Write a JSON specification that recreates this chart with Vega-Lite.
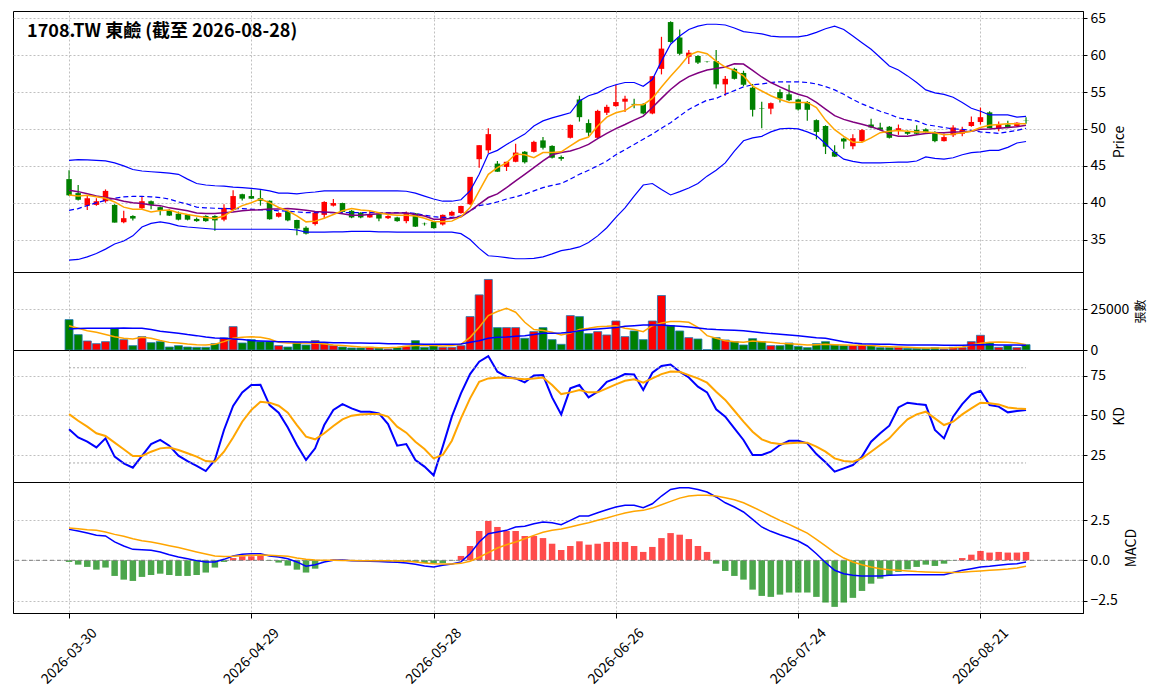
{
"$schema": "https://vega.github.io/schema/vega-lite/v6.json",
"background": "white",
"padding": {"left": 12, "top": 10, "right": 0, "bottom": 0},
"spacing": 0,
"bounds": "flush",
"config": {
  "font": "Noto Sans CJK TC",
  "view": {"stroke": "#000000", "strokeWidth": 1},
  "scale": {"continuousPadding": 0},
  "axis": {"gridColor": "#b0b0b0", "gridDash": [2, 2], "gridWidth": 0.8, "labelFontSize": 14, "labelColor": "#000000", "titleColor": "#000000", "titleFontWeight": "normal", "titleFontSize": 14, "domainColor": "#000000", "tickColor": "#000000", "tickSize": 4, "labelPadding": 3}
},
"datasets": {"k": [
{"i":0,"d":"2026-03-30","o":43.2,"h":44.4,"l":40.9,"c":41.0,"v":18750,"m5":41.05,"m10":41.7,"m20":38.97,"up":45.75,"lo":32.2,"vm5":15000,"vm20":13000,"k":41.2,"dv":50.8,"dif":1.92,"sig":2.0,"osc":-0.10},
{"i":1,"d":"2026-03-31","o":41.3,"h":42.4,"l":40.3,"c":40.4,"v":9480,"m5":40.9,"m10":41.5,"m20":39.2,"up":45.85,"lo":32.3,"vm5":13400,"vm20":13300,"k":36.1,"dv":46.6,"dif":1.82,"sig":1.96,"osc":-0.27},
{"i":2,"d":"2026-04-01","o":39.6,"h":40.9,"l":39.0,"c":40.6,"v":5560,"m5":41.0,"m10":41.2,"m20":39.6,"up":45.8,"lo":32.65,"vm5":11900,"vm20":13400,"k":33.4,"dv":42.9,"dif":1.69,"sig":1.90,"osc":-0.41},
{"i":3,"d":"2026-04-02","o":39.7,"h":40.6,"l":39.6,"c":40.2,"v":3910,"m5":40.8,"m10":40.9,"m20":40.0,"up":45.75,"lo":33.1,"vm5":10900,"vm20":13400,"k":29.8,"dv":38.7,"dif":1.55,"sig":1.86,"osc":-0.58},
{"i":4,"d":"2026-04-07","o":40.2,"h":41.8,"l":40.0,"c":41.6,"v":5150,"m5":40.6,"m10":40.7,"m20":40.3,"up":45.66,"lo":33.7,"vm5":9500,"vm20":13400,"k":35.5,"dv":37.0,"dif":1.51,"sig":1.76,"osc":-0.45},
{"i":5,"d":"2026-04-08","o":39.7,"h":39.8,"l":37.3,"c":37.3,"v":13390,"m5":40.1,"m10":40.5,"m20":40.6,"up":45.4,"lo":34.4,"vm5":8200,"vm20":13400,"k":24.0,"dv":32.8,"dif":1.14,"sig":1.61,"osc":-0.97},
{"i":6,"d":"2026-04-09","o":37.35,"h":38.9,"l":37.2,"c":37.9,"v":6390,"m5":39.4,"m10":40.2,"m20":40.8,"up":45.0,"lo":34.8,"vm5":7200,"vm20":13500,"k":19.8,"dv":28.6,"dif":0.89,"sig":1.49,"osc":-1.20},
{"i":7,"d":"2026-04-10","o":38.2,"h":38.3,"l":37.6,"c":37.85,"v":2680,"m5":39.1,"m10":40.0,"m20":40.85,"up":44.5,"lo":35.5,"vm5":6800,"vm20":13400,"k":17.0,"dv":24.4,"dif":0.68,"sig":1.34,"osc":-1.28},
{"i":8,"d":"2026-04-13","o":39.25,"h":40.9,"l":39.1,"c":40.2,"v":8240,"m5":39.1,"m10":39.9,"m20":40.85,"up":44.3,"lo":36.7,"vm5":7800,"vm20":13400,"k":24.4,"dv":24.4,"dif":0.66,"sig":1.22,"osc":-1.03},
{"i":9,"d":"2026-04-14","o":40.2,"h":40.3,"l":39.1,"c":39.7,"v":4530,"m5":38.75,"m10":39.7,"m20":40.8,"up":44.2,"lo":37.2,"vm5":7200,"vm20":12600,"k":31.9,"dv":27.1,"dif":0.62,"sig":1.14,"osc":-0.91},
{"i":10,"d":"2026-04-15","o":39.4,"h":39.5,"l":38.3,"c":39.0,"v":5150,"m5":38.95,"m10":39.6,"m20":40.7,"up":44.1,"lo":37.4,"vm5":5800,"vm20":11500,"k":34.5,"dv":29.2,"dif":0.52,"sig":1.03,"osc":-0.83},
{"i":11,"d":"2026-04-16","o":39.0,"h":39.1,"l":38.2,"c":38.25,"v":1850,"m5":39.0,"m10":39.3,"m20":40.5,"up":44.0,"lo":37.2,"vm5":4700,"vm20":10900,"k":30.9,"dv":29.8,"dif":0.35,"sig":0.91,"osc":-0.91},
{"i":12,"d":"2026-04-17","o":38.5,"h":38.8,"l":37.6,"c":37.7,"v":2680,"m5":38.65,"m10":39.1,"m20":40.1,"up":43.85,"lo":36.85,"vm5":4300,"vm20":10300,"k":24.6,"dv":28.2,"dif":0.21,"sig":0.79,"osc":-0.97},
{"i":13,"d":"2026-04-20","o":38.35,"h":38.4,"l":37.6,"c":37.7,"v":1850,"m5":38.4,"m10":38.9,"m20":39.8,"up":43.2,"lo":36.7,"vm5":3700,"vm20":9500,"k":21.2,"dv":26.1,"dif":0.10,"sig":0.66,"osc":-0.97},
{"i":14,"d":"2026-04-21","o":37.8,"h":38.0,"l":37.4,"c":37.5,"v":1650,"m5":38.2,"m10":38.6,"m20":39.4,"up":42.6,"lo":36.6,"vm5":3300,"vm20":8860,"k":18.1,"dv":24.0,"dif":-0.02,"sig":0.52,"osc":-0.91},
{"i":15,"d":"2026-04-22","o":38.2,"h":38.3,"l":37.4,"c":37.5,"v":1650,"m5":38.0,"m10":38.55,"m20":39.3,"up":42.4,"lo":36.5,"vm5":3100,"vm20":8000,"k":14.9,"dv":21.2,"dif":-0.10,"sig":0.39,"osc":-0.76},
{"i":16,"d":"2026-04-23","o":38.2,"h":38.3,"l":36.2,"c":37.6,"v":3910,"m5":37.85,"m10":38.55,"m20":39.25,"up":42.3,"lo":36.4,"vm5":3500,"vm20":7400,"k":21.9,"dv":20.8,"dif":-0.10,"sig":0.27,"osc":-0.45},
{"i":17,"d":"2026-04-24","o":37.7,"h":39.8,"l":37.5,"c":39.3,"v":7420,"m5":38.2,"m10":38.65,"m20":39.2,"up":42.25,"lo":36.4,"vm5":5150,"vm20":7200,"k":40.8,"dv":27.1,"dif":0.06,"sig":0.23,"osc":-0.10},
{"i":18,"d":"2026-04-27","o":39.0,"h":41.7,"l":38.9,"c":40.9,"v":14420,"m5":39.0,"m10":38.75,"m20":39.2,"up":42.1,"lo":36.4,"vm5":7200,"vm20":6800,"k":55.9,"dv":36.1,"dif":0.27,"sig":0.25,"osc":0.14},
{"i":19,"d":"2026-04-28","o":41.15,"h":41.2,"l":40.3,"c":40.55,"v":4330,"m5":39.6,"m10":38.9,"m20":39.2,"up":42.05,"lo":36.4,"vm5":7800,"vm20":6400,"k":64.5,"dv":46.0,"dif":0.37,"sig":0.29,"osc":0.25},
{"i":20,"d":"2026-04-29","o":40.9,"h":41.8,"l":40.5,"c":40.55,"v":6390,"m5":40.0,"m10":39.0,"m20":39.1,"up":41.95,"lo":36.4,"vm5":8200,"vm20":5800,"k":69.1,"dv":53.4,"dif":0.41,"sig":0.31,"osc":0.25},
{"i":21,"d":"2026-04-30","o":40.6,"h":41.7,"l":39.6,"c":40.25,"v":5150,"m5":40.5,"m10":39.05,"m20":39.05,"up":41.8,"lo":36.4,"vm5":7800,"vm20":5560,"k":69.3,"dv":58.6,"dif":0.41,"sig":0.33,"osc":0.27},
{"i":22,"d":"2026-05-04","o":40.25,"h":40.3,"l":37.7,"c":37.75,"v":5150,"m5":40.0,"m10":39.15,"m20":39.0,"up":41.6,"lo":36.4,"vm5":6800,"vm20":5360,"k":56.5,"dv":58.0,"dif":0.27,"sig":0.31,"osc":-0.02},
{"i":23,"d":"2026-05-05","o":38.1,"h":38.7,"l":38.0,"c":38.6,"v":2680,"m5":39.35,"m10":39.15,"m20":38.9,"up":41.3,"lo":36.4,"vm5":4700,"vm20":5150,"k":51.7,"dv":56.1,"dif":0.21,"sig":0.29,"osc":-0.14},
{"i":24,"d":"2026-05-06","o":38.85,"h":38.9,"l":37.5,"c":37.6,"v":1850,"m5":38.9,"m10":39.2,"m20":38.85,"up":41.3,"lo":36.4,"vm5":4300,"vm20":5150,"k":42.4,"dv":51.7,"dif":0.10,"sig":0.25,"osc":-0.33},
{"i":25,"d":"2026-05-07","o":37.65,"h":37.7,"l":35.6,"c":36.5,"v":4530,"m5":38.2,"m10":39.1,"m20":38.75,"up":41.2,"lo":36.3,"vm5":4300,"vm20":4950,"k":31.3,"dv":43.9,"dif":-0.10,"sig":0.14,"osc":-0.58},
{"i":26,"d":"2026-05-08","o":36.6,"h":36.8,"l":35.7,"c":35.8,"v":3090,"m5":37.4,"m10":38.97,"m20":38.65,"up":41.35,"lo":36.0,"vm5":4300,"vm20":4950,"k":21.9,"dv":36.6,"dif":-0.37,"sig":0.06,"osc":-0.76},
{"i":27,"d":"2026-05-11","o":37.1,"h":38.7,"l":36.9,"c":38.65,"v":5770,"m5":37.5,"m10":38.8,"m20":38.65,"up":41.45,"lo":36.0,"vm5":4300,"vm20":4740,"k":29.2,"dv":34.9,"dif":-0.27,"sig":0.02,"osc":-0.52},
{"i":28,"d":"2026-05-12","o":38.35,"h":40.2,"l":37.9,"c":40.1,"v":3910,"m5":37.9,"m10":38.75,"m20":38.65,"up":41.6,"lo":36.0,"vm5":3700,"vm20":4740,"k":43.9,"dv":38.7,"dif":-0.10,"sig":0.0,"osc":-0.06},
{"i":29,"d":"2026-05-13","o":39.6,"h":40.5,"l":39.5,"c":39.95,"v":2680,"m5":38.4,"m10":38.66,"m20":38.65,"up":41.6,"lo":36.05,"vm5":3100,"vm20":4530,"k":53.4,"dv":43.3,"dif":0.0,"sig":0.0,"osc":0.05},
{"i":30,"d":"2026-05-14","o":39.95,"h":40.0,"l":38.7,"c":38.75,"v":1850,"m5":38.9,"m10":38.5,"m20":38.65,"up":41.6,"lo":36.05,"vm5":2700,"vm20":4530,"k":57.1,"dv":47.5,"dif":0.02,"sig":-0.01,"osc":0.03},
{"i":31,"d":"2026-05-15","o":38.9,"h":39.0,"l":37.9,"c":38.0,"v":1240,"m5":39.2,"m10":38.3,"m20":38.65,"up":41.6,"lo":36.1,"vm5":2300,"vm20":4330,"k":54.4,"dv":49.8,"dif":-0.02,"sig":-0.01,"osc":-0.03},
{"i":32,"d":"2026-05-18","o":38.65,"h":38.7,"l":37.9,"c":38.0,"v":1240,"m5":39.0,"m10":38.3,"m20":38.65,"up":41.6,"lo":36.1,"vm5":1850,"vm20":4330,"k":52.3,"dv":50.6,"dif":-0.04,"sig":-0.02,"osc":-0.04},
{"i":33,"d":"2026-05-19","o":38.0,"h":38.9,"l":37.95,"c":38.35,"v":1650,"m5":38.9,"m10":38.4,"m20":38.65,"up":41.6,"lo":36.1,"vm5":1650,"vm20":4120,"k":52.3,"dv":50.8,"dif":-0.06,"sig":-0.02,"osc":-0.05},
{"i":34,"d":"2026-05-20","o":38.45,"h":38.5,"l":37.5,"c":37.85,"v":1240,"m5":38.65,"m10":38.5,"m20":38.65,"up":41.6,"lo":36.05,"vm5":1440,"vm20":4120,"k":51.3,"dv":50.8,"dif":-0.08,"sig":-0.03,"osc":-0.06},
{"i":35,"d":"2026-05-21","o":37.9,"h":38.3,"l":37.8,"c":38.2,"v":620,"m5":38.4,"m10":38.6,"m20":38.65,"up":41.6,"lo":36.05,"vm5":1440,"vm20":3900,"k":44.5,"dv":49.2,"dif":-0.10,"sig":-0.03,"osc":-0.08},
{"i":36,"d":"2026-05-22","o":38.0,"h":38.1,"l":37.4,"c":37.5,"v":1440,"m5":38.3,"m10":38.6,"m20":38.65,"up":41.6,"lo":36.0,"vm5":1650,"vm20":3900,"k":30.9,"dv":42.9,"dif":-0.12,"sig":-0.04,"osc":-0.09},
{"i":37,"d":"2026-05-25","o":37.5,"h":38.8,"l":37.2,"c":38.65,"v":2270,"m5":38.3,"m10":38.6,"m20":38.65,"up":41.55,"lo":36.0,"vm5":2300,"vm20":3700,"k":31.9,"dv":39.1,"dif":-0.17,"sig":-0.06,"osc":-0.11},
{"i":38,"d":"2026-05-26","o":38.55,"h":38.6,"l":36.7,"c":36.75,"v":5770,"m5":38.2,"m10":38.4,"m20":38.55,"up":41.3,"lo":36.0,"vm5":2700,"vm20":3700,"k":21.9,"dv":33.4,"dif":-0.25,"sig":-0.10,"osc":-0.10},
{"i":39,"d":"2026-05-27","o":37.15,"h":37.3,"l":36.9,"c":37.1,"v":1650,"m5":37.9,"m10":38.2,"m20":38.3,"up":40.9,"lo":36.0,"vm5":2700,"vm20":3500,"k":17.7,"dv":28.8,"dif":-0.35,"sig":-0.17,"osc":-0.17},
{"i":40,"d":"2026-05-28","o":37.4,"h":37.5,"l":36.5,"c":36.55,"v":2680,"m5":37.45,"m10":37.75,"m20":38.1,"up":40.5,"lo":36.0,"vm5":2700,"vm20":3500,"k":12.2,"dv":22.9,"dif":-0.41,"sig":-0.21,"osc":-0.20},
{"i":41,"d":"2026-05-29","o":37.05,"h":38.4,"l":36.9,"c":38.35,"v":1650,"m5":37.4,"m10":37.75,"m20":38.0,"up":40.2,"lo":36.0,"vm5":2500,"vm20":3500,"k":30.3,"dv":25.0,"dif":-0.31,"sig":-0.23,"osc":-0.17},
{"i":42,"d":"2026-06-01","o":38.25,"h":38.9,"l":38.2,"c":38.75,"v":1650,"m5":37.5,"m10":37.9,"m20":38.0,"up":40.2,"lo":36.0,"vm5":2700,"vm20":3500,"k":49.2,"dv":34.0,"dif":-0.23,"sig":-0.23,"osc":-0.02},
{"i":43,"d":"2026-06-02","o":38.6,"h":39.6,"l":38.5,"c":39.55,"v":2680,"m5":38.1,"m10":38.1,"m20":38.2,"up":40.4,"lo":35.8,"vm5":3500,"vm20":3700,"k":63.9,"dv":48.1,"dif":-0.10,"sig":-0.19,"osc":0.27},
{"i":44,"d":"2026-06-03","o":39.8,"h":43.5,"l":39.7,"c":43.5,"v":20600,"m5":39.35,"m10":38.9,"m20":38.9,"up":41.6,"lo":35.0,"vm5":7800,"vm20":4740,"k":76.0,"dv":60.7,"dif":0.41,"sig":-0.06,"osc":0.89},
{"i":45,"d":"2026-06-04","o":45.9,"h":47.8,"l":44.75,"c":47.8,"v":34000,"m5":41.6,"m10":39.8,"m20":39.6,"up":43.85,"lo":33.8,"vm5":14000,"vm20":5770,"k":83.8,"dv":71.2,"dif":1.14,"sig":0.19,"osc":1.82},
{"i":46,"d":"2026-06-05","o":47.1,"h":50.1,"l":46.7,"c":49.3,"v":43500,"m5":43.85,"m10":40.7,"m20":39.8,"up":46.6,"lo":32.8,"vm5":21200,"vm20":7200,"k":87.4,"dv":73.3,"dif":1.65,"sig":0.48,"osc":2.44},
{"i":47,"d":"2026-06-08","o":45.3,"h":45.65,"l":44.2,"c":44.2,"v":13800,"m5":44.75,"m10":41.2,"m20":40.1,"up":47.1,"lo":32.7,"vm5":23700,"vm20":7800,"k":77.5,"dv":73.7,"dif":1.76,"sig":0.76,"osc":2.07},
{"i":48,"d":"2026-06-09","o":44.85,"h":45.55,"l":44.3,"c":45.55,"v":13800,"m5":45.4,"m10":42.05,"m20":40.5,"up":47.9,"lo":32.55,"vm5":25750,"vm20":8000,"k":74.4,"dv":73.7,"dif":1.86,"sig":0.97,"osc":1.82},
{"i":49,"d":"2026-06-10","o":45.55,"h":48.0,"l":45.5,"c":46.8,"v":13800,"m5":46.6,"m10":42.95,"m20":40.8,"up":48.6,"lo":32.4,"vm5":23300,"vm20":8450,"k":73.3,"dv":73.3,"dif":2.07,"sig":1.14,"osc":1.82},
{"i":50,"d":"2026-06-11","o":46.9,"h":47.0,"l":45.3,"c":45.5,"v":7210,"m5":46.5,"m10":43.85,"m20":41.15,"up":49.3,"lo":32.4,"vm5":17100,"vm20":8860,"k":70.8,"dv":72.7,"dif":2.11,"sig":1.34,"osc":1.51},
{"i":51,"d":"2026-06-12","o":46.9,"h":48.4,"l":46.8,"c":48.25,"v":11330,"m5":46.1,"m10":44.75,"m20":41.6,"up":50.4,"lo":32.45,"vm5":12600,"vm20":9500,"k":75.1,"dv":73.3,"dif":2.27,"sig":1.55,"osc":1.51},
{"i":52,"d":"2026-06-15","o":48.45,"h":48.9,"l":47.2,"c":47.45,"v":13800,"m5":46.8,"m10":45.66,"m20":42.05,"up":51.1,"lo":32.65,"vm5":12000,"vm20":10300,"k":75.4,"dv":73.9,"dif":2.38,"sig":1.74,"osc":1.38},
{"i":53,"d":"2026-06-16","o":47.7,"h":47.8,"l":46.0,"c":46.1,"v":6390,"m5":46.8,"m10":46.5,"m20":42.35,"up":51.5,"lo":33.05,"vm5":10900,"vm20":10400,"k":61.3,"dv":69.1,"dif":2.33,"sig":1.86,"osc":1.03},
{"i":54,"d":"2026-06-17","o":46.2,"h":46.4,"l":45.7,"c":45.95,"v":3500,"m5":46.9,"m10":46.8,"m20":42.6,"up":51.85,"lo":33.5,"vm5":9300,"vm20":10500,"k":50.6,"dv":63.4,"dif":2.21,"sig":1.94,"osc":0.64},
{"i":55,"d":"2026-06-18","o":48.8,"h":50.6,"l":48.7,"c":50.55,"v":21200,"m5":47.7,"m10":47.0,"m20":43.2,"up":52.2,"lo":33.7,"vm5":10500,"vm20":10900,"k":67.0,"dv":64.5,"dif":2.48,"sig":2.07,"osc":0.89},
{"i":56,"d":"2026-06-22","o":54.0,"h":54.5,"l":51.0,"c":51.6,"v":20600,"m5":48.5,"m10":47.4,"m20":43.85,"up":53.8,"lo":34.0,"vm5":12600,"vm20":11900,"k":69.1,"dv":66.0,"dif":2.75,"sig":2.21,"osc":1.18},
{"i":57,"d":"2026-06-23","o":50.8,"h":51.3,"l":49.0,"c":49.5,"v":10100,"m5":48.9,"m10":47.9,"m20":44.4,"up":54.5,"lo":34.6,"vm5":13400,"vm20":12600,"k":61.3,"dv":64.5,"dif":2.75,"sig":2.33,"osc":0.97},
{"i":58,"d":"2026-06-24","o":48.8,"h":52.6,"l":48.7,"c":52.45,"v":11330,"m5":50.4,"m10":48.7,"m20":45.0,"up":54.9,"lo":35.5,"vm5":14400,"vm20":13000,"k":64.9,"dv":64.5,"dif":2.95,"sig":2.48,"osc":1.03},
{"i":59,"d":"2026-06-25","o":52.2,"h":53.3,"l":51.9,"c":53.0,"v":9270,"m5":51.6,"m10":49.4,"m20":45.66,"up":55.6,"lo":36.6,"vm5":14600,"vm20":13400,"k":71.2,"dv":67.0,"dif":3.14,"sig":2.62,"osc":1.14},
{"i":60,"d":"2026-06-26","o":53.1,"h":56.0,"l":53.0,"c":53.65,"v":17900,"m5":52.2,"m10":50.05,"m20":46.5,"up":56.0,"lo":38.0,"vm5":15000,"vm20":13800,"k":73.3,"dv":69.5,"dif":3.31,"sig":2.79,"osc":1.14},
{"i":61,"d":"2026-06-29","o":53.7,"h":54.5,"l":52.3,"c":54.1,"v":8240,"m5":52.5,"m10":50.6,"m20":47.2,"up":56.3,"lo":39.3,"vm5":13400,"vm20":14600,"k":76.0,"dv":71.8,"dif":3.41,"sig":2.93,"osc":1.14},
{"i":62,"d":"2026-06-30","o":53.4,"h":54.1,"l":52.8,"c":53.3,"v":11740,"m5":53.3,"m10":51.2,"m20":47.9,"up":56.3,"lo":40.9,"vm5":12600,"vm20":15000,"k":75.8,"dv":72.7,"dif":3.41,"sig":3.04,"osc":0.89},
{"i":63,"d":"2026-07-01","o":53.4,"h":53.5,"l":52.0,"c":52.1,"v":6390,"m5":53.3,"m10":51.75,"m20":48.6,"up":55.8,"lo":42.4,"vm5":11300,"vm20":15450,"k":66.0,"dv":70.6,"dif":3.26,"sig":3.10,"osc":0.52},
{"i":64,"d":"2026-07-02","o":52.1,"h":57.2,"l":52.0,"c":57.15,"v":17900,"m5":54.15,"m10":52.9,"m20":49.3,"up":56.7,"lo":42.6,"vm5":15000,"vm20":15450,"k":76.9,"dv":73.3,"dif":3.51,"sig":3.24,"osc":0.83},
{"i":65,"d":"2026-07-03","o":58.15,"h":62.5,"l":57.4,"c":60.9,"v":33600,"m5":55.7,"m10":54.15,"m20":50.1,"up":59.2,"lo":41.8,"vm5":16700,"vm20":15450,"k":81.1,"dv":76.0,"dif":3.99,"sig":3.45,"osc":1.38},
{"i":66,"d":"2026-07-06","o":64.5,"h":64.6,"l":61.7,"c":61.8,"v":15000,"m5":57.15,"m10":55.35,"m20":50.85,"up":61.5,"lo":41.05,"vm5":17500,"vm20":15000,"k":82.1,"dv":77.7,"dif":4.40,"sig":3.66,"osc":1.69},
{"i":67,"d":"2026-07-07","o":62.4,"h":63.5,"l":60.0,"c":60.2,"v":11740,"m5":58.5,"m10":56.35,"m20":51.75,"up":62.6,"lo":41.5,"vm5":17500,"vm20":14600,"k":77.5,"dv":77.5,"dif":4.50,"sig":3.86,"osc":1.59},
{"i":68,"d":"2026-07-08","o":59.8,"h":60.7,"l":58.8,"c":60.35,"v":7620,"m5":60.0,"m10":57.1,"m20":52.65,"up":63.5,"lo":42.0,"vm5":17100,"vm20":14200,"k":73.9,"dv":75.4,"dif":4.50,"sig":3.99,"osc":1.32},
{"i":69,"d":"2026-07-09","o":59.9,"h":60.0,"l":58.8,"c":59.0,"v":6800,"m5":60.5,"m10":57.6,"m20":53.3,"up":63.95,"lo":42.6,"vm5":14000,"vm20":13600,"k":68.1,"dv":73.3,"dif":4.40,"sig":4.03,"osc":0.89},
{"i":70,"d":"2026-07-10","o":59.12,"h":59.2,"l":59.0,"c":59.08,"v":150,"m5":60.2,"m10":58.0,"m20":53.9,"up":64.2,"lo":43.6,"vm5":8860,"vm20":13000,"k":64.5,"dv":70.6,"dif":4.24,"sig":4.03,"osc":0.52},
{"i":71,"d":"2026-07-13","o":59.2,"h":60.7,"l":55.5,"c":56.05,"v":7620,"m5":59.2,"m10":58.2,"m20":54.15,"up":64.2,"lo":44.4,"vm5":7200,"vm20":12600,"k":53.8,"dv":64.9,"dif":3.93,"sig":3.99,"osc":-0.21},
{"i":72,"d":"2026-07-14","o":56.05,"h":57.2,"l":54.5,"c":56.8,"v":6180,"m5":58.4,"m10":58.4,"m20":54.7,"up":64.1,"lo":45.4,"vm5":5770,"vm20":12400,"k":49.2,"dv":59.7,"dif":3.57,"sig":3.88,"osc":-0.66},
{"i":73,"d":"2026-07-15","o":58.15,"h":58.3,"l":56.7,"c":56.8,"v":5150,"m5":57.95,"m10":58.85,"m20":55.2,"up":63.7,"lo":47.0,"vm5":5150,"vm20":12150,"k":41.8,"dv":52.9,"dif":3.31,"sig":3.76,"osc":-0.97},
{"i":74,"d":"2026-07-16","o":57.6,"h":57.9,"l":55.8,"c":56.0,"v":3090,"m5":57.2,"m10":58.8,"m20":55.7,"up":63.2,"lo":48.4,"vm5":4740,"vm20":11900,"k":34.5,"dv":46.0,"dif":3.0,"sig":3.57,"osc":-1.20},
{"i":75,"d":"2026-07-17","o":55.6,"h":56.1,"l":51.7,"c":52.6,"v":7000,"m5":55.8,"m10":57.95,"m20":56.0,"up":63.05,"lo":48.8,"vm5":5560,"vm20":11300,"k":25.0,"dv":39.7,"dif":2.54,"sig":3.31,"osc":-1.82},
{"i":76,"d":"2026-07-20","o":52.78,"h":53.7,"l":50.1,"c":52.72,"v":5150,"m5":55.15,"m10":57.05,"m20":56.1,"up":62.9,"lo":49.0,"vm5":5150,"vm20":10700,"k":25.0,"dv":34.9,"dif":2.07,"sig":3.04,"osc":-2.21},
{"i":77,"d":"2026-07-21","o":52.75,"h":53.6,"l":52.0,"c":53.5,"v":2680,"m5":54.5,"m10":56.3,"m20":56.3,"up":62.6,"lo":49.6,"vm5":4740,"vm20":10100,"k":27.1,"dv":32.8,"dif":1.80,"sig":2.75,"osc":-2.27},
{"i":78,"d":"2026-07-22","o":55.0,"h":55.4,"l":53.6,"c":54.15,"v":2680,"m5":54.0,"m10":55.7,"m20":56.4,"up":62.5,"lo":50.0,"vm5":4120,"vm20":9680,"k":31.3,"dv":31.9,"dif":1.59,"sig":2.48,"osc":-2.13},
{"i":79,"d":"2026-07-23","o":54.7,"h":56.0,"l":53.8,"c":53.9,"v":4330,"m5":53.6,"m10":55.15,"m20":56.4,"up":62.5,"lo":50.1,"vm5":3900,"vm20":9270,"k":34.0,"dv":32.4,"dif":1.40,"sig":2.23,"osc":-2.0},
{"i":80,"d":"2026-07-24","o":54.0,"h":54.1,"l":52.5,"c":52.65,"v":2270,"m5":53.6,"m10":54.7,"m20":56.4,"up":62.5,"lo":50.0,"vm5":3500,"vm20":8860,"k":34.0,"dv":32.8,"dif":1.20,"sig":1.96,"osc":-2.0},
{"i":81,"d":"2026-07-27","o":53.65,"h":53.8,"l":51.1,"c":52.6,"v":1440,"m5":53.6,"m10":54.35,"m20":56.3,"up":62.7,"lo":49.6,"vm5":3100,"vm20":8240,"k":32.4,"dv":32.8,"dif":0.89,"sig":1.69,"osc":-2.0},
{"i":82,"d":"2026-07-28","o":51.2,"h":51.3,"l":48.6,"c":49.6,"v":3910,"m5":52.9,"m10":53.6,"m20":56.1,"up":63.1,"lo":49.1,"vm5":3300,"vm20":7620,"k":25.6,"dv":30.3,"dif":0.41,"sig":1.30,"osc":-2.27},
{"i":83,"d":"2026-07-29","o":50.4,"h":50.5,"l":46.6,"c":47.6,"v":5150,"m5":51.2,"m10":52.7,"m20":55.75,"up":63.6,"lo":48.0,"vm5":3500,"vm20":7210,"k":20.4,"dv":27.1,"dif":-0.14,"sig":0.89,"osc":-2.62},
{"i":84,"d":"2026-07-30","o":46.9,"h":47.8,"l":46.2,"c":46.25,"v":3090,"m5":49.9,"m10":51.8,"m20":55.3,"up":63.95,"lo":46.8,"vm5":3300,"vm20":6180,"k":14.5,"dv":22.9,"dif":-0.62,"sig":0.48,"osc":-2.89},
{"i":85,"d":"2026-07-31","o":48.7,"h":48.8,"l":47.3,"c":48.3,"v":2680,"m5":49.0,"m10":51.3,"m20":54.7,"up":63.5,"lo":45.9,"vm5":3100,"vm20":5150,"k":16.6,"dv":21.2,"dif":-0.83,"sig":0.14,"osc":-2.62},
{"i":86,"d":"2026-08-03","o":47.65,"h":49.3,"l":47.25,"c":48.75,"v":2680,"m5":48.2,"m10":50.95,"m20":54.0,"up":62.6,"lo":45.6,"vm5":2900,"vm20":4330,"k":18.7,"dv":20.8,"dif":-0.93,"sig":-0.10,"osc":-2.33},
{"i":87,"d":"2026-08-04","o":48.35,"h":50.0,"l":48.2,"c":49.85,"v":3090,"m5":48.2,"m10":50.65,"m20":53.4,"up":61.7,"lo":45.4,"vm5":2900,"vm20":3900,"k":24.0,"dv":22.9,"dif":-0.97,"sig":-0.27,"osc":-1.90},
{"i":88,"d":"2026-08-05","o":50.6,"h":51.4,"l":50.1,"c":50.2,"v":2680,"m5":48.8,"m10":50.3,"m20":52.9,"up":60.8,"lo":45.4,"vm5":2700,"vm20":3700,"k":33.4,"dv":27.1,"dif":-0.97,"sig":-0.41,"osc":-1.45},
{"i":89,"d":"2026-08-06","o":50.2,"h":50.85,"l":49.8,"c":49.9,"v":1440,"m5":49.5,"m10":49.9,"m20":52.4,"up":59.7,"lo":45.4,"vm5":2270,"vm20":3500,"k":38.7,"dv":31.3,"dif":-0.97,"sig":-0.52,"osc":-1.14},
{"i":90,"d":"2026-08-07","o":50.3,"h":50.4,"l":48.7,"c":48.8,"v":1440,"m5":49.7,"m10":49.3,"m20":52.0,"up":58.55,"lo":45.45,"vm5":2060,"vm20":3500,"k":43.5,"dv":35.5,"dif":-0.93,"sig":-0.58,"osc":-0.93},
{"i":91,"d":"2026-08-10","o":49.85,"h":50.6,"l":49.2,"c":50.1,"v":1650,"m5":49.8,"m10":49.0,"m20":51.5,"up":58.0,"lo":45.5,"vm5":1850,"vm20":3300,"k":55.0,"dv":41.8,"dif":-0.91,"sig":-0.62,"osc":-0.72},
{"i":92,"d":"2026-08-11","o":49.6,"h":49.8,"l":49.2,"c":49.35,"v":1030,"m5":49.7,"m10":49.0,"m20":51.3,"up":57.2,"lo":45.5,"vm5":1650,"vm20":3100,"k":58.0,"dv":47.5,"dif":-0.89,"sig":-0.66,"osc":-0.56},
{"i":93,"d":"2026-08-12","o":49.85,"h":50.5,"l":49.3,"c":49.35,"v":1030,"m5":49.6,"m10":49.2,"m20":51.1,"up":56.3,"lo":45.65,"vm5":1440,"vm20":3100,"k":57.1,"dv":50.6,"dif":-0.89,"sig":-0.70,"osc":-0.41},
{"i":94,"d":"2026-08-13","o":49.95,"h":50.1,"l":49.5,"c":49.6,"v":1030,"m5":49.6,"m10":49.4,"m20":50.6,"up":55.3,"lo":46.2,"vm5":1240,"vm20":3100,"k":56.5,"dv":52.3,"dif":-0.89,"sig":-0.72,"osc":-0.27},
{"i":95,"d":"2026-08-14","o":49.6,"h":49.7,"l":48.2,"c":48.35,"v":1440,"m5":49.5,"m10":49.5,"m20":50.4,"up":54.9,"lo":46.0,"vm5":1240,"vm20":3100,"k":40.8,"dv":48.1,"dif":-0.89,"sig":-0.74,"osc":-0.35},
{"i":96,"d":"2026-08-17","o":48.35,"h":49.4,"l":48.3,"c":48.9,"v":620,"m5":49.2,"m10":49.5,"m20":50.2,"up":54.7,"lo":45.9,"vm5":1240,"vm20":2900,"k":35.5,"dv":43.9,"dif":-0.89,"sig":-0.76,"osc":-0.21},
{"i":97,"d":"2026-08-18","o":49.15,"h":50.5,"l":48.9,"c":50.2,"v":1650,"m5":49.3,"m10":49.6,"m20":50.0,"up":54.3,"lo":46.1,"vm5":1440,"vm20":2900,"k":49.2,"dv":46.0,"dif":-0.76,"sig":-0.76,"osc":-0.02},
{"i":98,"d":"2026-08-19","o":49.35,"h":50.3,"l":49.0,"c":49.95,"v":1440,"m5":49.5,"m10":49.6,"m20":49.95,"up":53.6,"lo":46.5,"vm5":1850,"vm20":2900,"k":57.1,"dv":50.6,"dif":-0.62,"sig":-0.74,"osc":0.14},
{"i":99,"d":"2026-08-20","o":50.4,"h":51.7,"l":50.3,"c":50.95,"v":5150,"m5":49.7,"m10":49.7,"m20":49.8,"up":52.8,"lo":46.8,"vm5":3100,"vm20":3100,"k":63.2,"dv":54.4,"dif":-0.52,"sig":-0.70,"osc":0.35},
{"i":100,"d":"2026-08-21","o":50.95,"h":52.9,"l":50.6,"c":51.6,"v":9060,"m5":50.2,"m10":49.95,"m20":49.6,"up":52.4,"lo":46.9,"vm5":4120,"vm20":3300,"k":65.5,"dv":58.0,"dif":-0.41,"sig":-0.66,"osc":0.58},
{"i":101,"d":"2026-08-24","o":52.25,"h":52.4,"l":50.1,"c":50.1,"v":4330,"m5":50.5,"m10":50.0,"m20":49.5,"up":51.9,"lo":47.1,"vm5":4740,"vm20":3300,"k":56.5,"dv":57.6,"dif":-0.37,"sig":-0.62,"osc":0.48},
{"i":102,"d":"2026-08-25","o":50.1,"h":51.0,"l":49.7,"c":50.6,"v":1650,"m5":50.6,"m10":50.1,"m20":49.4,"up":51.9,"lo":47.1,"vm5":4950,"vm20":3100,"k":55.5,"dv":56.9,"dif":-0.31,"sig":-0.58,"osc":0.52},
{"i":103,"d":"2026-08-26","o":50.6,"h":51.1,"l":50.1,"c":50.2,"v":2680,"m5":50.7,"m10":50.2,"m20":49.6,"up":51.9,"lo":47.5,"vm5":4740,"vm20":3100,"k":51.9,"dv":55.0,"dif":-0.25,"sig":-0.54,"osc":0.48},
{"i":104,"d":"2026-08-27","o":50.4,"h":50.9,"l":50.3,"c":50.85,"v":1440,"m5":50.7,"m10":50.3,"m20":49.8,"up":51.6,"lo":48.1,"vm5":4330,"vm20":3100,"k":52.7,"dv":54.4,"dif":-0.21,"sig":-0.48,"osc":0.48},
{"i":105,"d":"2026-08-28","o":51.22,"h":51.6,"l":50.7,"c":51.18,"v":3300,"m5":50.7,"m10":50.5,"m20":50.1,"up":51.7,"lo":48.3,"vm5":3300,"vm20":2900,"k":53.4,"dv":54.0,"dif":-0.10,"sig":-0.37,"osc":0.52}
]},
"vconcat": [
{
  "width": 1070, "height": 261,
  "data": {"name": "k"},
  "layer": [
    {"mark": {"type": "rule", "strokeWidth": 1.2}, "encoding": {"x": {"field": "i", "type": "quantitative", "scale": {"domain": [-6.15, 111.25], "nice": false, "zero": false, "padding": 0}, "axis": {"values": [0, 20, 40, 60, 80, 100], "labels": false, "ticks": false, "domain": false, "grid": true, "title": null}}, "y": {"field": "l", "type": "quantitative", "scale": {"domain": [30.6, 66.0], "nice": false, "zero": false, "padding": 0}, "axis": {"orient": "right", "values": [35, 40, 45, 50, 55, 60, 65], "title": "Price", "grid": true, "titleAngle": 270, "titleBaseline": "top", "titlePadding": 7}}, "y2": {"field": "h"}, "color": {"condition": {"test": "datum.c > datum.o", "value": "#ff0000"}, "value": "#008000"}}},
    {"mark": {"type": "bar", "size": 5.5}, "encoding": {"x": {"field": "i", "type": "quantitative", "title": null, "scale": {"domain": [-6.15, 111.25], "nice": false, "zero": false, "padding": 0}}, "y": {"field": "o", "type": "quantitative", "title": "Price"}, "y2": {"field": "c"}, "color": {"condition": {"test": "datum.c > datum.o", "value": "#ff0000"}, "value": "#008000"}}},
    {"mark": {"type": "line", "color": "#0000ff", "strokeWidth": 1.2}, "encoding": {"x": {"field": "i", "type": "quantitative", "title": null, "scale": {"domain": [-6.15, 111.25], "nice": false, "zero": false, "padding": 0}}, "y": {"field": "up", "type": "quantitative", "title": "Price"}}},
    {"mark": {"type": "line", "color": "#0000ff", "strokeWidth": 1.2}, "encoding": {"x": {"field": "i", "type": "quantitative", "title": null, "scale": {"domain": [-6.15, 111.25], "nice": false, "zero": false, "padding": 0}}, "y": {"field": "lo", "type": "quantitative", "title": "Price"}}},
    {"mark": {"type": "line", "color": "#0000ff", "strokeWidth": 1.2, "strokeDash": [5, 3]}, "encoding": {"x": {"field": "i", "type": "quantitative", "title": null, "scale": {"domain": [-6.15, 111.25], "nice": false, "zero": false, "padding": 0}}, "y": {"field": "m20", "type": "quantitative", "title": "Price"}}},
    {"mark": {"type": "line", "color": "#800080", "strokeWidth": 1.5}, "encoding": {"x": {"field": "i", "type": "quantitative", "title": null, "scale": {"domain": [-6.15, 111.25], "nice": false, "zero": false, "padding": 0}}, "y": {"field": "m10", "type": "quantitative", "title": "Price"}}},
    {"mark": {"type": "line", "color": "#ffa500", "strokeWidth": 1.5}, "encoding": {"x": {"field": "i", "type": "quantitative", "title": null, "scale": {"domain": [-6.15, 111.25], "nice": false, "zero": false, "padding": 0}}, "y": {"field": "m5", "type": "quantitative", "title": "Price"}}},
    {"data": {"values": [{"t": "1708.TW 東鹼 (截至 2026-08-28)"}]}, "mark": {"type": "text", "align": "left", "baseline": "middle", "fontSize": 18, "fontWeight": "bold", "color": "#000000"}, "encoding": {"text": {"field": "t"}, "x": {"datum": -4.61}, "y": {"datum": 63.1}}}
  ]
},
{
  "width": 1070, "height": 78,
  "data": {"name": "k"},
  "layer": [
    {"mark": {"type": "bar", "size": 8, "stroke": "#1f77b4", "strokeWidth": 0.8}, "encoding": {"x": {"field": "i", "type": "quantitative", "scale": {"domain": [-6.15, 111.25], "nice": false, "zero": false, "padding": 0}, "axis": {"values": [0, 20, 40, 60, 80, 100], "labels": false, "ticks": false, "domain": false, "grid": true, "title": null}}, "y": {"field": "v", "type": "quantitative", "scale": {"domain": [0, 48100], "nice": false, "padding": 0}, "axis": {"orient": "right", "values": [0, 25000], "title": "張數", "titleFontSize": 12, "grid": true, "titleAngle": 270, "titleBaseline": "top", "titlePadding": 7, "format": "d"}}, "color": {"condition": {"test": "datum.c > datum.o", "value": "#ff0000"}, "value": "#008000"}}},
    {"mark": {"type": "line", "color": "#ffa500", "strokeWidth": 1.5}, "encoding": {"x": {"field": "i", "type": "quantitative", "title": null, "scale": {"domain": [-6.15, 111.25], "nice": false, "zero": false, "padding": 0}}, "y": {"field": "vm5", "type": "quantitative", "title": "張數"}}},
    {"mark": {"type": "line", "color": "#0000ff", "strokeWidth": 1.5}, "encoding": {"x": {"field": "i", "type": "quantitative", "title": null, "scale": {"domain": [-6.15, 111.25], "nice": false, "zero": false, "padding": 0}}, "y": {"field": "vm20", "type": "quantitative", "title": "張數"}}}
  ]
},
{
  "width": 1070, "height": 132,
  "data": {"name": "k"},
  "layer": [
    {"mark": {"type": "line", "color": "#0000ff", "strokeWidth": 2}, "encoding": {"x": {"field": "i", "type": "quantitative", "scale": {"domain": [-6.15, 111.25], "nice": false, "zero": false, "padding": 0}, "axis": {"values": [0, 20, 40, 60, 80, 100], "labels": false, "ticks": false, "domain": false, "grid": true, "title": null}}, "y": {"field": "k", "type": "quantitative", "scale": {"domain": [8, 91.2], "nice": false, "zero": false}, "axis": {"orient": "right", "values": [25, 50, 75], "title": "KD", "grid": true, "titleAngle": 270, "titleBaseline": "top", "titlePadding": 7}}}},
    {"mark": {"type": "line", "color": "#ffa500", "strokeWidth": 2}, "encoding": {"x": {"field": "i", "type": "quantitative", "title": null, "scale": {"domain": [-6.15, 111.25], "nice": false, "zero": false, "padding": 0}}, "y": {"field": "dv", "type": "quantitative", "title": "KD"}}},
    {"data": {"values": [{"lv": 20}, {"lv": 80}]}, "mark": {"type": "rule", "color": "#a0a0a0", "strokeWidth": 0.9, "strokeDash": [2, 2]}, "encoding": {"x": {"datum": 0}, "x2": {"datum": 105}, "y": {"field": "lv", "type": "quantitative", "title": "KD"}}}
  ]
},
{
  "width": 1070, "height": 131,
  "data": {"name": "k"},
  "layer": [
    {"mark": {"type": "bar", "size": 6.5, "opacity": 0.7}, "encoding": {"x": {"field": "i", "type": "quantitative", "scale": {"domain": [-6.15, 111.25], "nice": false, "zero": false, "padding": 0}, "axis": {"values": [0, 20, 40, 60, 80, 100], "labelExpr": "['2026-03-30','2026-04-29','2026-05-28','2026-06-26','2026-07-24','2026-08-21'][round(datum.value/20)]", "labelAngle": -45, "labelAlign": "center", "labelBaseline": "middle", "labelPadding": 38, "tickSize": 5, "labelOverlap": false, "labelBound": false, "labelFlush": false, "domain": true, "grid": true, "title": null}}, "y": {"field": "osc", "type": "quantitative", "scale": {"domain": [-3.27, 4.86], "nice": false, "zero": false, "padding": 0}, "axis": {"orient": "right", "values": [-2.5, 0, 2.5], "labelExpr": "replace(format(datum.value, '.1f'), '-', '−')", "title": "MACD", "grid": true, "titleAngle": 270, "titleBaseline": "top", "titlePadding": 7}}, "y2": {"datum": 0}, "color": {"condition": {"test": "datum.osc >= 0", "value": "#ff0000"}, "value": "#008000"}}},
    {"data": {"values": [{"zv": 0}]}, "mark": {"type": "rule", "color": "#808080", "strokeWidth": 1, "strokeDash": [4, 3]}, "encoding": {"y": {"field": "zv", "type": "quantitative", "title": "MACD"}}},
    {"mark": {"type": "line", "color": "#0000ff", "strokeWidth": 1.5}, "encoding": {"x": {"field": "i", "type": "quantitative", "title": null, "scale": {"domain": [-6.15, 111.25], "nice": false, "zero": false, "padding": 0}}, "y": {"field": "dif", "type": "quantitative", "title": "MACD"}}},
    {"mark": {"type": "line", "color": "#ffa500", "strokeWidth": 1.5}, "encoding": {"x": {"field": "i", "type": "quantitative", "title": null, "scale": {"domain": [-6.15, 111.25], "nice": false, "zero": false, "padding": 0}}, "y": {"field": "sig", "type": "quantitative", "title": "MACD"}}}
  ]
}
]
}
